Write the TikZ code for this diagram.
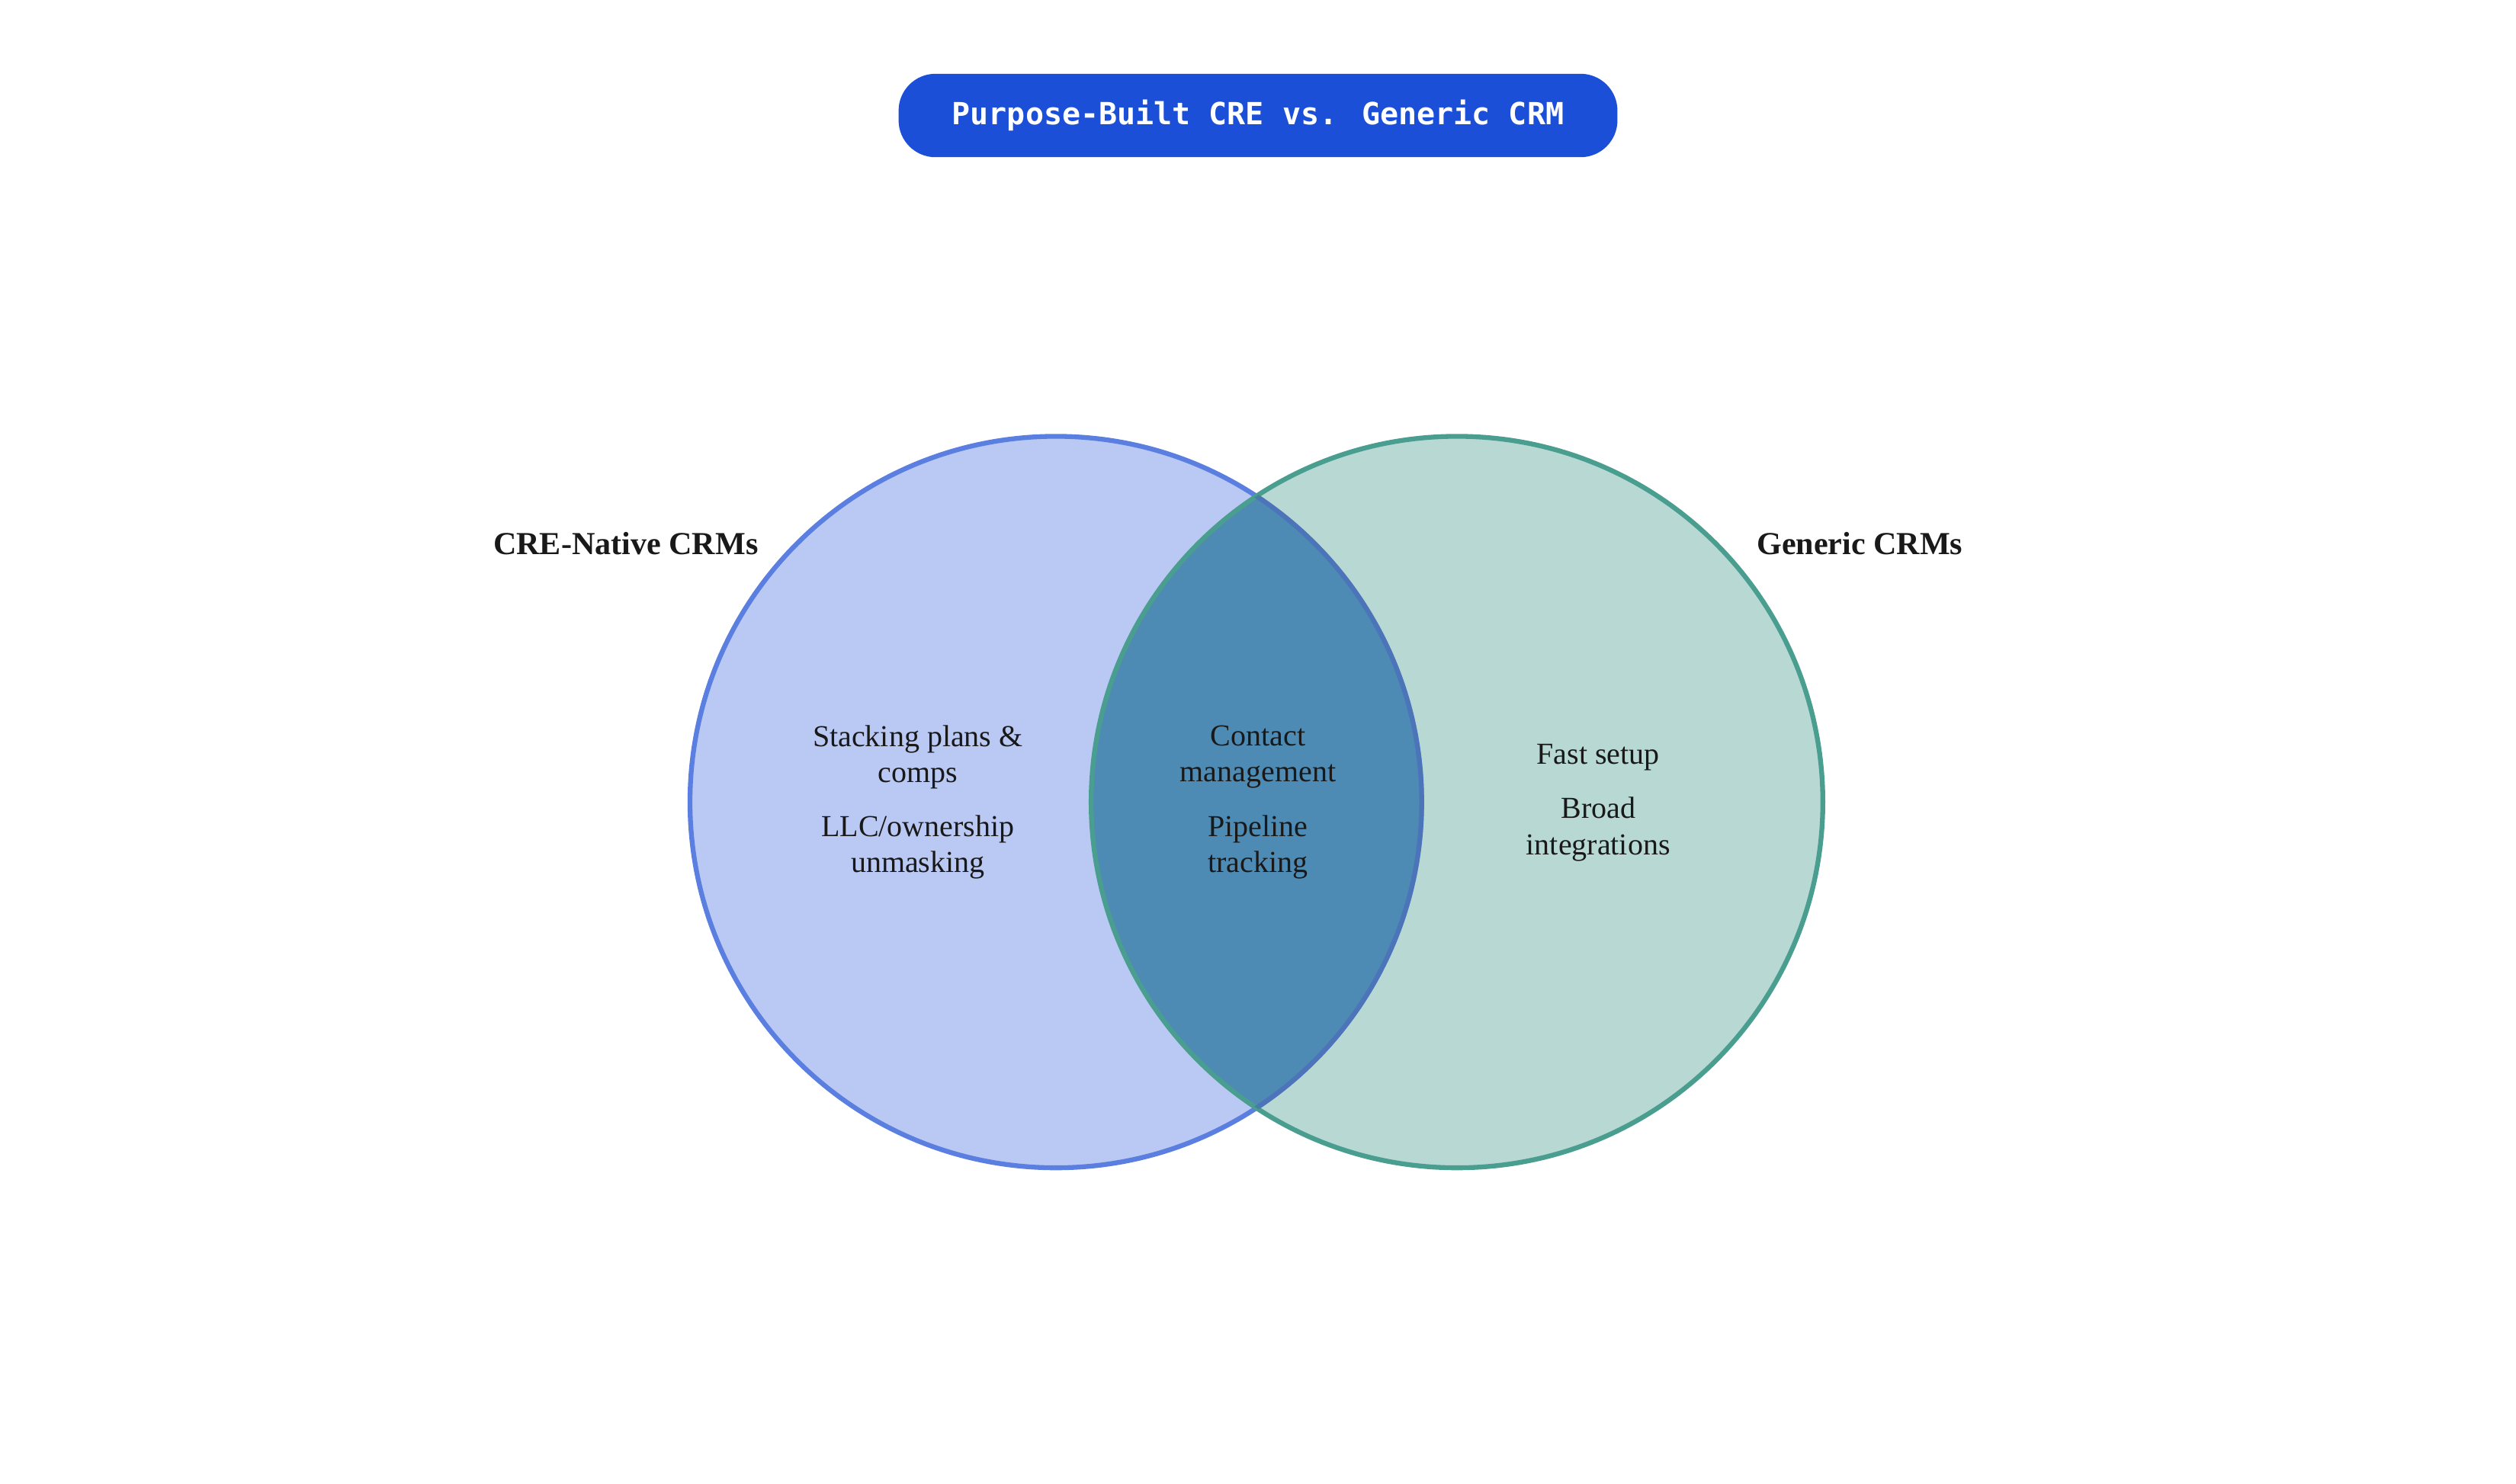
\documentclass[tikz,border=0pt]{standalone}
\usepackage{fontspec}
\setmainfont{Liberation Serif}
\newfontfamily\titlefont{DejaVu Sans Mono}
\begin{document}
\begin{tikzpicture}[x=1pt,y=-1pt,
  txt/.style={align=center,font=\fontsize{19}{22.5}\selectfont,text=black!90},
  lab/.style={font=\fontsize{20}{24}\selectfont\bfseries,text=black!90}]
\useasboundingbox (0,0) rectangle (1568,925);
\definecolor{lf}{HTML}{BAC9F3}\definecolor{ls}{HTML}{5A7FE0}
\definecolor{rf}{HTML}{B7D8D3}\definecolor{rs}{HTML}{4A9E90}
\definecolor{ov}{HTML}{4D8BB5}\definecolor{tb}{HTML}{1C4FD8}
\node[fill=tb,rounded corners=23pt,minimum width=448pt,minimum height=52pt,text=white,font=\titlefont\bfseries\fontsize{19}{22}\selectfont] (title) at (784,72) {Purpose-Built CRE vs. Generic CRM};
\fill[lf] (658,500) circle (228);
\fill[rf] (908,500) circle (228);
\begin{scope}\clip (658,500) circle (228); \fill[ov] (908,500) circle (228);\end{scope}
\draw[ls,line width=3pt] (658,500) circle (228);
\draw[rs,line width=3pt] (908,500) circle (228);
\begin{scope}\clip (908,500) circle (228); \draw[ls!70!rs!80!black,line width=3pt,opacity=0.6] (658,500) circle (228);\end{scope}
\node[lab] (l1) at (390,339) {CRE-Native CRMs};
\node[lab] (l2) at (1159,339) {Generic CRMs};
\node[txt] (a) at (572,472) {Stacking plans \&\\comps};
\node[txt] (b) at (572,528) {LLC/ownership\\unmasking};
\node[txt] (c) at (784,472) {Contact\\management};
\node[txt] (d) at (784,528) {Pipeline\\tracking};
\node[txt] (e) at (996,472) {Fast setup};
\node[txt] (f) at (996,517) {Broad\\integrations};
\end{tikzpicture}
\end{document}
